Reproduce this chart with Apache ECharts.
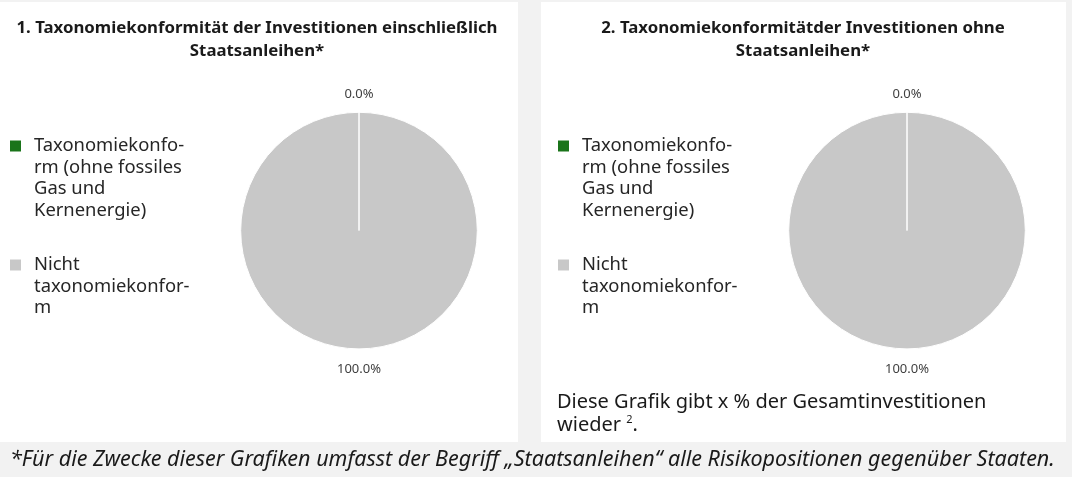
<!DOCTYPE html>
<html>
<head>
<meta charset="utf-8">
<script src="https://cdn.jsdelivr.net/npm/echarts@6/dist/echarts.min.js"></script>
<style>
  html, body { margin: 0; padding: 0; background: #f2f2f2; }
  #chart { width: 1072px; height: 477px; }
</style>
</head>
<body>
<div id="chart"></div>
<script>
// ---- Data ----
const categories = ['Taxonomiekonform (ohne fossiles Gas und Kernenergie)', 'Nicht taxonomiekonform'];
const legendLabels = ['Taxonomiekonfo-\nrm (ohne fossiles\nGas und\nKernenergie)', 'Nicht\ntaxonomiekonfor-\nm'];
const valuesChart1 = [0.0, 100.0];
const valuesChart2 = [0.0, 100.0];
const sliceColors = ['#1a741a', '#c8c8c8'];
const chartTitles = [
  '1. Taxonomiekonformität der Investitionen einschließlich\nStaatsanleihen*',
  '2. Taxonomiekonformitätder Investitionen ohne\nStaatsanleihen*'
];
const noteText = 'Diese Grafik gibt x % der Gesamtinvestitionen\nwieder {sup|2}.';
const footnoteText = '*Für die Zwecke dieser Grafiken umfasst der Begriff „Staatsanleihen“ alle Risikopositionen gegenüber Staaten.';

const FONT = 'Noto Sans';
const LH = 21.6;

function buildData(values) {
  // zero slice drawn last so its white edge stays visible
  return categories.map((c, i) => ({
    name: c, value: values[i], itemStyle: { color: sliceColors[i] }
  })).reverse();
}

// legend text: pad with blank lines above so the first line sits level with the icon
function legendText(name) {
  const lbl = legendLabels[categories.indexOf(name)];
  const n = lbl.split('\n').length;
  return '\n'.repeat(n - 1) + lbl;
}

function pieSeries(values, cx) {
  return {
    type: 'pie',
    center: [cx, 230.6],
    radius: 118.3,
    startAngle: 90,
    clockwise: true,
    avoidLabelOverlap: false,
    silent: true,
    data: buildData(values),
    itemStyle: { borderColor: '#ffffff', borderWidth: 1 },
    label: {
      show: true,
      position: 'outside',
      distanceToLabelLine: 0,
      formatter: p => p.value.toFixed(1) + '%',
      fontFamily: FONT,
      fontSize: 13,
      color: '#404040'
    },
    labelLine: { show: false, length: 19.5, length2: 0 },
    labelLayout: () => ({ align: 'center', verticalAlign: 'middle', dy: 1.2 })
  };
}

function legend(left) {
  const n1 = legendLabels[0].split('\n').length;
  const n2 = legendLabels[1].split('\n').length;
  const h1 = (2 * n1 - 1) * LH, h2 = (2 * n2 - 1) * LH;
  return {
    orient: 'vertical',
    left: left,
    top: 146 - h1 / 2,
    padding: 0,
    itemGap: (265 - 146) - h1 / 2 - h2 / 2,
    icon: 'rect',
    itemWidth: 11,
    itemHeight: 11,
    itemStyle: { borderWidth: 0 },
    selectedMode: false,
    data: categories.slice(),
    formatter: legendText,
    textStyle: { fontFamily: FONT, fontSize: 18.4, lineHeight: LH, color: '#262626', padding: [0, 0, 0, 8] }
  };
}

const chart = echarts.init(document.getElementById('chart'), null, { renderer: 'canvas' });
chart.setOption({
  backgroundColor: '#f2f2f2',
  animation: false,
  graphic: [
    { type: 'rect', z: -10, shape: { x: 0, y: 2, width: 518, height: 440 }, style: { fill: '#ffffff' } },
    { type: 'rect', z: -10, shape: { x: 541, y: 2, width: 525, height: 440 }, style: { fill: '#ffffff' } }
  ],
  title: [
    {
      text: chartTitles[0], left: 257, top: 17, textAlign: 'center', padding: 0,
      textStyle: { fontFamily: FONT, fontSize: 16.8, fontWeight: 'bold', lineHeight: 23, color: '#1a1a1a' }
    },
    {
      text: chartTitles[1], left: 803, top: 17, textAlign: 'center', padding: 0,
      textStyle: { fontFamily: FONT, fontSize: 16.8, fontWeight: 'bold', lineHeight: 23, color: '#1a1a1a' }
    },
    {
      text: noteText, left: 557, top: 391, padding: 0,
      textStyle: {
        fontFamily: FONT, fontSize: 20, fontWeight: 'normal', lineHeight: 23, color: '#1a1a1a',
        rich: { sup: { fontFamily: FONT, fontSize: 11, verticalAlign: 'top', lineHeight: 23, color: '#1a1a1a' } }
      }
    },
    {
      text: footnoteText, left: 10, top: 447.5, padding: 0,
      textStyle: { fontFamily: FONT, fontSize: 21.5, fontStyle: 'italic', fontWeight: 'normal', lineHeight: 25, color: '#1a1a1a' }
    }
  ],
  legend: [legend(10), legend(558)],
  series: [pieSeries(valuesChart1, 359), pieSeries(valuesChart2, 907)]
});
</script>
</body>
</html>
